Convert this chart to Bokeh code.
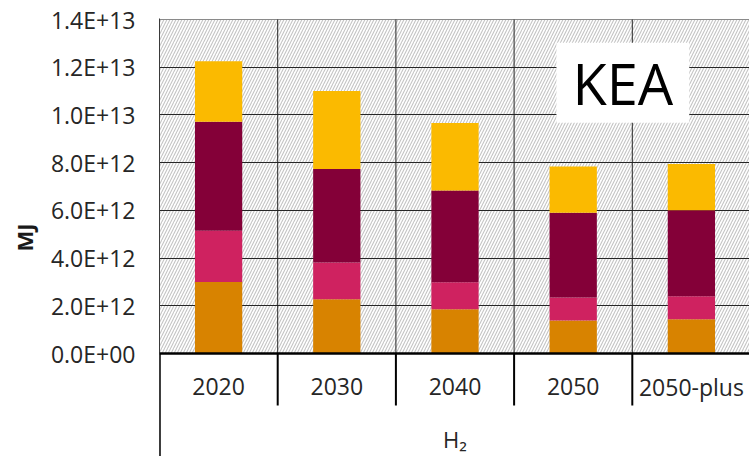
from bokeh.plotting import figure
from bokeh.models import ColumnDataSource, FixedTicker, Range1d, Span, Label
from bokeh.core.properties import value
from bokeh.embed import file_html
from bokeh.resources import INLINE

# --- data (MJ) -------------------------------------------------------------
categories = ["2020", "2030", "2040", "2050", "2050-plus"]
group_label = "H\u2082"
series_names = ["s1", "s2", "s3", "s4"]
s1 = [3.00e12, 2.27e12, 1.86e12, 1.38e12, 1.44e12]
s2 = [2.14e12, 1.54e12, 1.13e12, 0.97e12, 0.96e12]
s3 = [4.57e12, 3.92e12, 3.84e12, 3.55e12, 3.60e12]
s4 = [2.54e12, 3.27e12, 2.83e12, 1.94e12, 1.94e12]
colors = ["#D88300", "#CF2260", "#840038", "#FBBA00"]

y_ticks = [0, 2e12, 4e12, 6e12, 8e12, 1.0e13, 1.2e13, 1.4e13]
y_tick_labels = ["0.0E+00", "2.0E+12", "4.0E+12", "6.0E+12", "8.0E+12",
                 "1.0E+13", "1.2E+13", "1.4E+13"]
y_max = 1.4e13

# --- layout ------------------------------------------------------------------
W, H = 749, 456
LEFT = 159            # x pixel of the value axis
TOP = 18              # top of the plotting frame
ZERO_PX = 353         # pixel row of the zero line
AXIS_PX = 334         # pixels between 0 and y_max
CAT_PX = 118.2        # pixels per category

vpp = y_max / AXIS_PX                      # value per pixel
y_end = y_max + (ZERO_PX - AXIS_PX - TOP) * vpp
y_start = -(H - ZERO_PX) * vpp
x_end = (W - LEFT) / CAT_PX

FONT = "Open Sans"

p = figure(width=W, height=H, output_backend="svg", toolbar_location=None,
           x_range=Range1d(0, x_end), y_range=Range1d(y_start, y_end),
           x_axis_location=None, min_border_left=LEFT, min_border_top=TOP,
           min_border_bottom=0, min_border_right=0)
p.outline_line_color = None
p.background_fill_color = "white"

# hatched plot background, 0 .. y_max
bg = p.quad(left=0, right=len(categories) + 1, bottom=0, top=y_max,
            fill_color="white", line_color="#8a8a8a", line_width=1,
            hatch_pattern="/", hatch_color="#c4c4c4", hatch_scale=6,
            hatch_weight=1.1)
bg.level = "image"

# value axis
ax = p.yaxis[0]
ax.ticker = FixedTicker(ticks=y_ticks)
ax.major_label_overrides = {t: s for t, s in zip(y_ticks, y_tick_labels)}
ax.major_tick_out = 0
ax.major_tick_in = 0
ax.minor_tick_out = 0
ax.minor_tick_in = 0
ax.axis_line_color = "#3a3a3a"
ax.major_label_standoff = 24
ax.major_label_text_font = FONT
ax.major_label_text_font_size = "23px"
ax.major_label_text_color = "#262626"
ax.axis_label = "MJ"
ax.axis_label_text_font = FONT
ax.axis_label_text_font_style = "bold"
ax.axis_label_text_font_size = "22px"
ax.axis_label_text_color = "#1a1a1a"
ax.axis_label_standoff = 9

# horizontal grid lines
p.ygrid.ticker = FixedTicker(ticks=y_ticks[1:-1])
p.ygrid.grid_line_color = "#262626"
p.ygrid.grid_line_width = 1
p.xgrid.visible = False

# stacked bars
x_centers = [i + 0.5 for i in range(len(categories))]
src = ColumnDataSource(dict(x=x_centers, s1=s1, s2=s2, s3=s3, s4=s4))
p.vbar_stack(series_names, x="x", width=0.4, color=colors, line_color=None,
             source=src)

# category dividers inside the plot
n = len(categories)
p.segment(x0=list(range(1, n + 1)), y0=[0] * n,
          x1=list(range(1, n + 1)), y1=[y_max] * n,
          line_color="#262626", line_width=1)

# category dividers in the axis area
p.segment(x0=list(range(1, n + 1)), y0=[0] * n,
          x1=list(range(1, n + 1)), y1=[-52 * vpp] * n,
          line_color="black", line_width=2)
p.segment(x0=[0], y0=[0], x1=[0], y1=[y_start], line_color="black",
          line_width=2.5)

# zero line
p.add_layout(Span(location=0, dimension="width", line_color="black",
                  line_width=2.5))

# category labels
p.text(x=x_centers, y=[0] * n, text=categories, y_offset=33,
       text_font=value(FONT), text_font_size="23px", text_color="#262626",
       text_align="center", text_baseline="middle")

# group label
p.text(x=[n / 2], y=[0], text=[group_label], y_offset=85,
       text_font=value(FONT), text_font_size="22px", text_color="#262626",
       text_align="center", text_baseline="middle")

# title box
p.add_layout(Label(x=3.92, y=11.35e12, text="KEA", text_font=FONT,
                   text_font_size="56px", text_color="black",
                   text_align="center", text_baseline="middle",
                   background_fill_color="white", padding=(16, 2)))

open("out.html", "w").write(file_html(p, INLINE))
